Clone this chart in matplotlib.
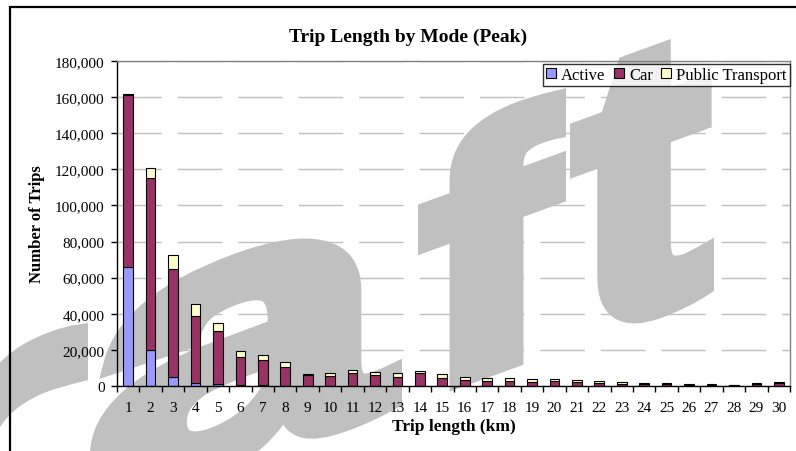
import matplotlib
matplotlib.use("Agg")
import matplotlib.pyplot as plt
from matplotlib.patches import Rectangle, PathPatch
from matplotlib.textpath import TextPath
from matplotlib.font_manager import FontProperties
from matplotlib.transforms import Affine2D
import numpy as np

# trip length bins (km)
lengths = [str(i) for i in range(1, 31)]

active = [66000, 20000, 5000, 1500, 1200, 400, 300, 200, 100, 100,
          100, 100, 50, 50, 50, 50, 50, 50, 50, 50,
          0, 0, 0, 0, 0, 0, 0, 0, 0, 0]
car = [95000, 95000, 60000, 37000, 29000, 15500, 14000, 10500, 6000, 5700,
       7000, 5900, 5000, 7000, 4300, 3000, 2800, 2500, 2300, 2700,
       2000, 1400, 1200, 1100, 1100, 700, 700, 600, 1100, 1500]
public = [1000, 6000, 7500, 6700, 4800, 3700, 2600, 2400, 700, 1300,
          2000, 1700, 2000, 1500, 2400, 1800, 1500, 1700, 1400, 1000,
          1100, 1200, 800, 400, 400, 200, 200, 150, 400, 500]

series = ["Active", "Car", "Public Transport"]
colors = ["#9999FF", "#993366", "#FFFFCC"]

serif = "Liberation Serif"
W, H = 796, 452

fig = plt.figure(figsize=(W / 100, H / 100), dpi=100)
fig.patch.set_facecolor("white")
ax = fig.add_axes([117 / W, 1 - 387 / H, 673 / W, 325 / H])
ax.set_facecolor("none")

# "Draft" watermark, slanted up (vertical strokes stay vertical)
wm_letters = ["D", "r", "a", "f", "t"]
wm_span = [(-330, -120), (-110, 88), (90, 402), (418, 566), (570, 714)]
wm_height = [255, 195, 206, 255, 262]
stroke = 18  # px, to make the bold face heavier
slope = 0.364
fp = FontProperties(family="Liberation Sans", weight="bold")
for ch, (x0, x1), hgt in zip(wm_letters, wm_span, wm_height):
    p = TextPath((0, 0), ch, size=1, prop=fp)
    ext = p.get_extents()
    sx = (x1 - x0 - stroke) / ext.width
    sy = (hgt - stroke / 2) / ext.y1
    tx = x0 + stroke / 2 - ext.x0 * sx
    tr = (Affine2D().scale(sx, sy).translate(tx, stroke / 2)
          .skew(0, np.arctan(slope)).translate(0, H - 555.7))
    fig.add_artist(PathPatch(p, transform=tr, facecolor="#c0c0c0",
                             edgecolor="#c0c0c0", linewidth=stroke * 0.72,
                             joinstyle="miter", zorder=-1))

x = np.arange(len(lengths))
bottom = np.zeros(len(lengths))
for name, vals, col in zip(series, [active, car, public], colors):
    ax.bar(x, vals, width=0.43, bottom=bottom, color=col, edgecolor="black",
           linewidth=0.8, label=name, zorder=2)
    bottom += np.array(vals)

ax.set_xlim(-0.5, len(lengths) - 0.5)
ax.set_ylim(0, 180000)
ax.set_yticks(np.arange(0, 180001, 20000))
ax.set_yticklabels([f"{v:,}" for v in range(0, 180001, 20000)],
                   family=serif, fontsize=11)
ax.set_xticks(x)
ax.set_xticklabels(lengths, family=serif, fontsize=11)
ax.set_xticks(np.arange(-0.5, len(lengths)), minor=True)
ax.tick_params(axis="x", which="major", length=0, pad=11)
ax.tick_params(axis="x", which="minor", length=4, width=1, direction="out")
ax.tick_params(axis="y", length=4, width=1, direction="out", pad=5)

ax.yaxis.grid(True, color="#c0c0c0", linewidth=1, linestyle=(0, (32, 11.5)))
ax.set_axisbelow(True)

for s in ["left", "bottom"]:
    ax.spines[s].set_color("black")
    ax.spines[s].set_linewidth(1)
for s in ["top", "right"]:
    ax.spines[s].set_color("#808080")
    ax.spines[s].set_linewidth(1)

ax.set_xlabel("Trip length (km)", family=serif, fontsize=12.5, fontweight="bold",
              labelpad=3)
ax.set_ylabel("Number of Trips", family=serif, fontsize=12, fontweight="bold",
              labelpad=7)
fig.text(408 / W, 1 - 37 / H, "Trip Length by Mode (Peak)", family=serif,
         fontsize=14, fontweight="bold", ha="center", va="center")

leg = ax.legend(loc="upper right", bbox_to_anchor=(1.0, 0.992), ncol=3,
                prop={"family": serif, "size": 12}, frameon=True, fancybox=False,
                handlelength=0.6, handleheight=0.6, handletextpad=0.3,
                columnspacing=0.5, borderpad=0.2, borderaxespad=0.0)
leg.get_frame().set_edgecolor("black")
leg.get_frame().set_linewidth(1)

# chart border
fig.add_artist(Rectangle((10 / W, -0.1), 1.2, 1.1 - 8 / H, transform=fig.transFigure,
                         fill=False, edgecolor="black", linewidth=1.6, zorder=10))

fig.savefig("out.png", dpi=100)
